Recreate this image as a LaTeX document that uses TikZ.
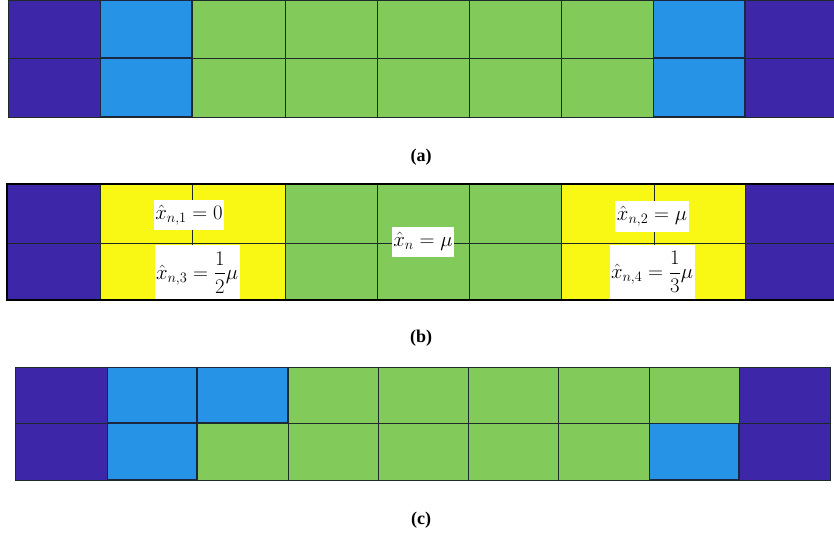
\documentclass[tikz,border=0pt]{standalone}
\usepackage[no-math]{fontspec}
\setmainfont{Liberation Serif}
\usepackage{amsmath}
\definecolor{cpurple}{HTML}{3D27A8}
\definecolor{cblue}{HTML}{2693E6}
\definecolor{cgreen}{HTML}{82CA5A}
\definecolor{cyellow}{HTML}{F8F814}
\definecolor{cline}{HTML}{1E2A2A}
\begin{document}
\begin{tikzpicture}[x=1pt,y=-1pt,
  cell/.style={draw=cline,line width=0.9pt},
  bluecell/.style={draw=cline!90!blue,line width=1.3pt},
  caption/.style={font=\fontsize{18}{21}\selectfont\bfseries},
  eqlabel/.style={fill=white,inner sep=1.5pt,minimum height=30pt,font=\fontsize{22}{26}\selectfont},
  fraclabel/.style={eqlabel,inner ysep=0pt,minimum height=55pt}]
\useasboundingbox (0,0) rectangle (834,537);
\fill[white] (0,0) rectangle (834,537);
% ---- panel (a)
\foreach \xa/\xb/\c in {8/100/cpurple,100/192/cblue,192/285/cgreen,285/377/cgreen,377/469/cgreen,469/561/cgreen,561/653/cgreen,653/745/cblue,745/836/cpurple}{
  \foreach \ya/\yb in {0/58,58/117}{
    \filldraw[cell,fill=\c] (\xa,\ya) rectangle (\xb,\yb);
  }
}
\foreach \xa/\xb in {100/192,653/745}{
  \foreach \ya/\yb in {0/58,58/117}{
    \draw[bluecell] (\xa+0.7,\ya+0.7) rectangle (\xb-0.7,\yb-0.7);
  }
}
\node[caption] (capa) at (421,157) {(a)};
% ---- panel (b)
\foreach \xa/\xb/\c in {7/100/cpurple,100/192/cyellow,192/285/cyellow,285/377/cgreen,377/469/cgreen,469/561/cgreen,561/654/cyellow,654/745/cyellow,745/836/cpurple}{
  \foreach \ya/\yb in {184/243,243/300}{
    \filldraw[cell,fill=\c] (\xa,\ya) rectangle (\xb,\yb);
  }
}
\node[eqlabel] (l1) at (189,215) {$\hat{x}_{n,1}=0$};
\node[fraclabel] (l3) at (197,272.5) {$\hat{x}_{n,3}=\dfrac{1}{2}\mu$};
\node[eqlabel] (l0) at (423,241.5) {$\hat{x}_{n}=\mu$};
\node[eqlabel] (l2) at (652,216.5) {$\hat{x}_{n,2}=\mu$};
\node[fraclabel] (l4) at (652,272) {$\hat{x}_{n,4}=\dfrac{1}{3}\mu$};
\draw[line width=2pt,black] (7,184) rectangle (838,300);
\node[caption] (capb) at (421,338) {(b)};
% ---- panel (c)
\foreach \xa/\xb/\ca/\cb in {15/107/cpurple/cpurple,107/197/cblue/cblue,197/288/cblue/cgreen,288/378/cgreen/cgreen,378/468/cgreen/cgreen,468/558/cgreen/cgreen,558/649/cgreen/cgreen,649/739/cgreen/cblue,739/830/cpurple/cpurple}{
  \filldraw[cell,fill=\ca] (\xa,367) rectangle (\xb,423);
  \filldraw[cell,fill=\cb] (\xa,423) rectangle (\xb,480);
}
\foreach \xa/\xb/\ya/\yb in {107/197/367/423,107/197/423/480,197/288/367/423,649/739/423/480}{
  \draw[bluecell] (\xa+0.7,\ya+0.7) rectangle (\xb-0.7,\yb-0.7);
}
\node[caption] (capc) at (421,520) {(c)};
\end{tikzpicture}
\end{document}
